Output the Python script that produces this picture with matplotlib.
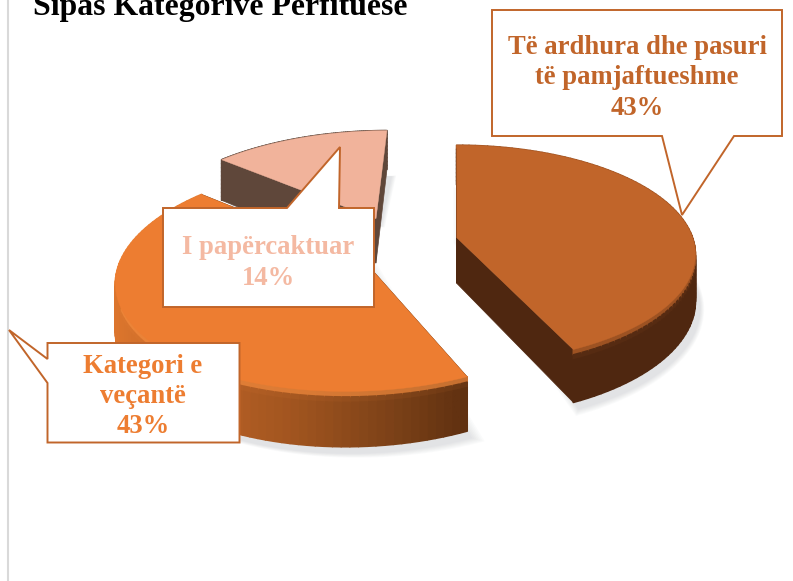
import numpy as np
import matplotlib
matplotlib.use('Agg')
import matplotlib.pyplot as plt
from matplotlib.collections import PolyCollection
from matplotlib.colors import to_rgb

# Datos del grafico
categorias = ['Të ardhura dhe pasuri\ntë pamjaftueshme', 'Kategori e\nveçantë', 'I papërcaktuar']
porcentajes = [43, 43, 14]
titulo = 'Sipas Kategorive Përfituese'

# Colores de cada porcion
color_cara = ['#c1652a', '#ed7d31', '#f1b39b']
color_texto = ['#c1652a', '#ed7d31', '#f4b9a2']
color_borde = '#c1652a'

# Parametros de la perspectiva (pixeles)
xc, yc = 397, 246
ax_r, ay_r = 238, 108.5
k = 0.154
cizalla = 0.04
fondo = 46
explosion = [0.27, 0.15, 0.257]
ajuste = [(-3, -2), (-5, 3), (2, -3)]

plt.rcParams['font.family'] = ['Liberation Serif', 'DejaVu Serif']
fig = plt.figure(figsize=(7.93, 5.81), dpi=100)
ax = fig.add_axes([0, 0, 1, 1])
ax.set_xlim(0, 793)
ax.set_ylim(581, 0)
ax.axis('off')


def proyectar(x, y):
    w = 1 + k * y
    return xc + ax_r * (x + cizalla * y) / w, yc - ay_r * y / w, w


def mezcla(c1, c2, f):
    return tuple(np.array(to_rgb(c1)) * (1 - f) + np.array(to_rgb(c2)) * f)


def color_lado(i, x, f):
    # f: 0 arriba del canto, 1 abajo
    if i == 0:
        base = to_rgb('#4f2710')
        alto = to_rgb('#c1652a')
    elif i == 2:
        base = to_rgb('#5f473a')
        alto = to_rgb('#5f473a')
    else:
        xs = [113, 200, 300, 400, 470]
        cs = [to_rgb(c) for c in ['#dd762d', '#bb6226', '#a0541f', '#7a4017', '#5f3010']]
        base = tuple(np.interp(x, xs, [c[j] for c in cs]) for j in range(3))
        alto = to_rgb('#f58c3e')
    if f < 0.16:
        return mezcla(alto, base, f / 0.16)
    return base


# Angulos de las porciones a partir de los porcentajes
fin = np.cumsum(porcentajes) / np.sum(porcentajes) * 2 * np.pi
inicio = np.concatenate([[0], fin[:-1]])

porciones = []
for i in range(len(porcentajes)):
    th = np.linspace(inicio[i], fin[i], 90)
    medio = (inicio[i] + fin[i]) / 2
    ex, ey = explosion[i] * np.sin(medio), explosion[i] * np.cos(medio)
    X, Y, W = proyectar(np.sin(th) + ex, np.cos(th) + ey)
    X0, Y0, W0 = proyectar(ex, ey)
    dx, dy = ajuste[i]
    porciones.append((X + dx, Y + dy, W, X0 + dx, Y0 + dy, W0))

# Sombra suave
for X, Y, W, X0, Y0, W0 in porciones:
    px = np.concatenate([[X0], X])
    py = np.concatenate([[Y0], Y + fondo / W])
    cx_s, cy_s = px.mean(), py.mean()
    for esc in np.linspace(1.0, 1.05, 7):
        ax.fill(cx_s + (px - cx_s) * esc + 5, cy_s + (py - cy_s) * esc + 7,
                color='#8a8f99', alpha=0.035, lw=0, zorder=1)

# Orden de dibujo: primero la porcion de atras
for orden, i in enumerate([2, 1, 0]):
    X, Y, W, X0, Y0, W0 = porciones[i]
    z = 2 + orden
    # caras rectas
    for xr, yr, wr in [(X[0], Y[0], W[0]), (X[-1], Y[-1], W[-1])]:
        cara = [(X0, Y0), (xr, yr), (xr, yr + fondo / wr), (X0, Y0 + fondo / W0)]
        c = color_lado(i, 470, 1) if i == 1 else color_lado(i, xr, 1)
        ax.fill(*zip(*cara), color=c, lw=0.5, zorder=z)
    # canto curvo por capas
    polys, cols = [], []
    capas = np.linspace(0, 1, 11)
    for a in range(len(X) - 1):
        for b in range(len(capas) - 1):
            f1, f2 = capas[b], capas[b + 1]
            polys.append([(X[a], Y[a] + f1 * fondo / W[a]), (X[a + 1], Y[a + 1] + f1 * fondo / W[a + 1]),
                          (X[a + 1], Y[a + 1] + f2 * fondo / W[a + 1]), (X[a], Y[a] + f2 * fondo / W[a])])
            cols.append(color_lado(i, X[a], (f1 + f2) / 2))
    ax.add_collection(PolyCollection(polys, facecolors=cols, edgecolors=cols, linewidths=1.2, zorder=z))
    # cara superior
    ax.fill(np.concatenate([[X0], X]), np.concatenate([[Y0], Y]), color=color_cara[i], lw=0.3, zorder=z + 0.5)

# Linea gris de la izquierda
ax.plot([8, 8], [0, 581], color='#d9d9d9', lw=1.5, zorder=1)

# Titulo, cortado por arriba como en el original
ax.text(33, 14.5, titulo, fontsize=22.9, fontweight='bold', color='black', ha='left', va='baseline', zorder=10)

# Globos con las etiquetas
globos = [
    [(492, 10), (782, 10), (782, 136), (734, 136), (682, 215), (662, 136), (492, 136)],
    [(47.5, 343), (239.5, 343), (239.5, 442.5), (47.5, 442.5), (47.5, 383), (9, 330), (47.5, 359)],
    [(163, 208), (287, 208), (340, 147), (339, 208), (374, 208), (374, 307), (163, 307)],
]
pos_texto = [(637, 78), (143, 396.5), (268, 263)]
for i in range(3):
    ax.fill(*zip(*globos[i]), facecolor='white', edgecolor=color_borde, lw=1.4, zorder=7, joinstyle='miter')
    ax.text(pos_texto[i][0], pos_texto[i][1], f'{categorias[i]}\n{porcentajes[i]}%', color=color_texto[i],
            fontsize=19.2, fontweight='bold', ha='center', va='center', linespacing=1.28, zorder=8)

plt.savefig('out.png', dpi=100)
